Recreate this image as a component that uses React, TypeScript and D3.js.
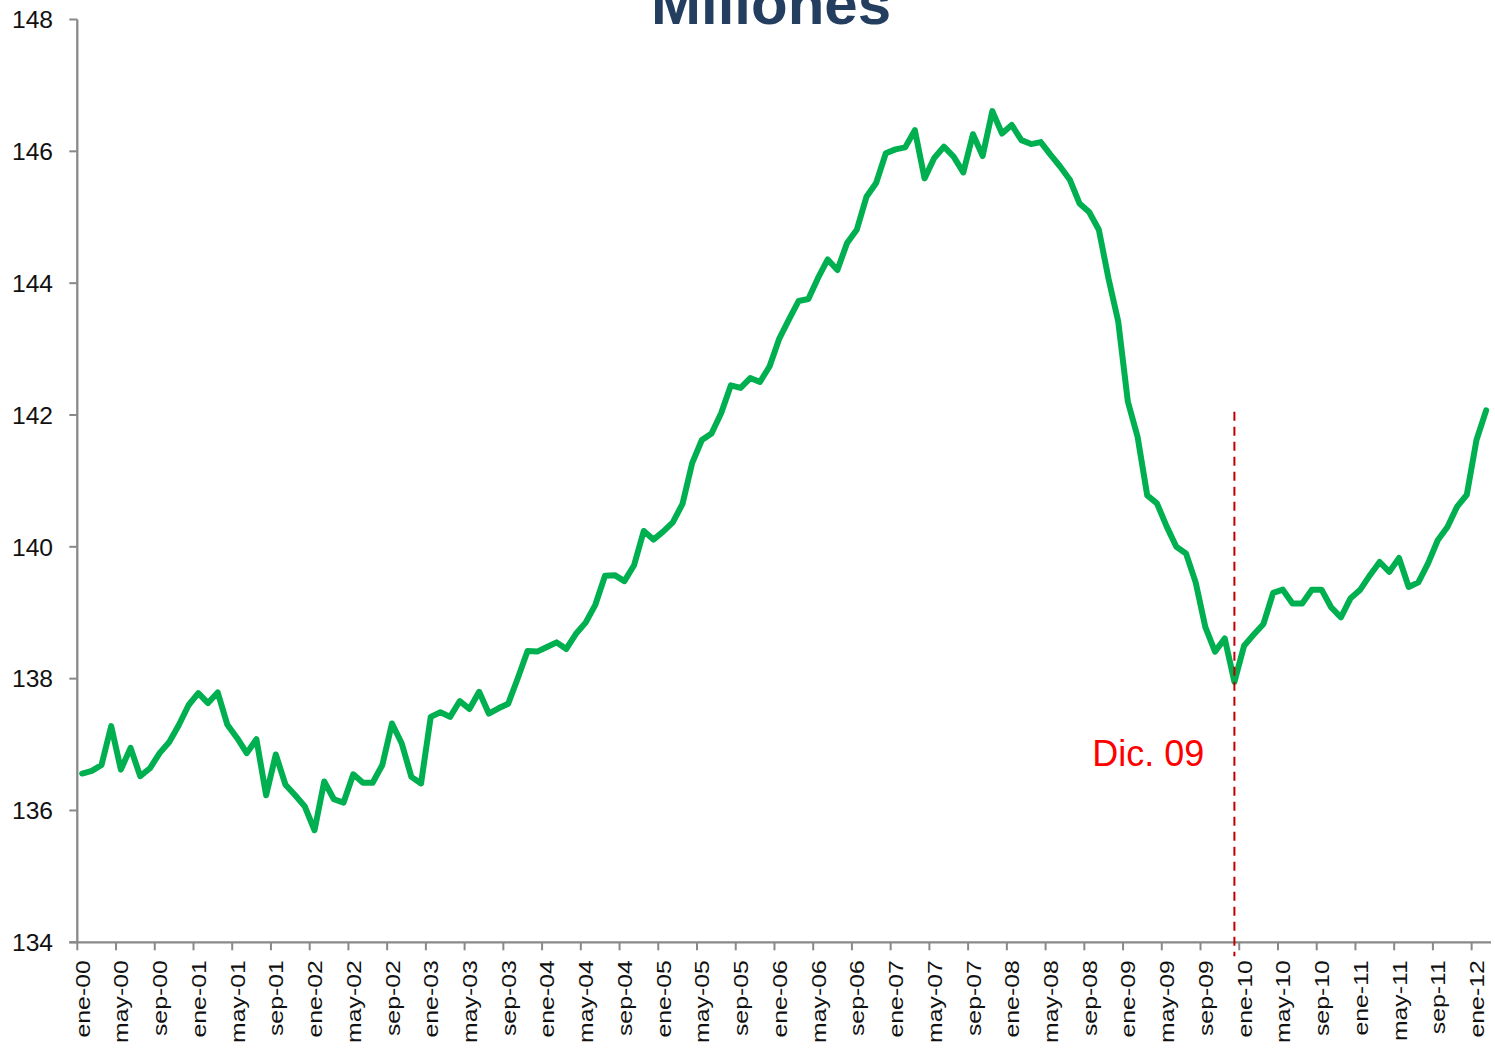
import React from 'react';
import * as d3 from 'd3';

// Ocupados (millones), enero 2000 - febrero 2012
const monthAbbr = ['ene', 'feb', 'mar', 'abr', 'may', 'jun', 'jul', 'ago', 'sep', 'oct', 'nov', 'dic'];
const years = ['00', '01', '02', '03', '04', '05', '06', '07', '08', '09', '10', '11', '12'];

const v2000 = [136.56, 136.60, 136.69, 137.28, 136.62, 136.95, 136.52, 136.64, 136.87, 137.04, 137.30, 137.60];
const v2001 = [137.78, 137.63, 137.79, 137.30, 137.10, 136.87, 137.08, 136.23, 136.85, 136.39, 136.23, 136.06];
const v2002 = [135.70, 136.44, 136.17, 136.12, 136.55, 136.42, 136.42, 136.69, 137.32, 137.02, 136.51, 136.41];
const v2003 = [137.42, 137.49, 137.42, 137.66, 137.54, 137.80, 137.47, 137.55, 137.62, 138.01, 138.42, 138.41];
const v2004 = [138.48, 138.55, 138.45, 138.68, 138.85, 139.12, 139.56, 139.57, 139.48, 139.72, 140.24, 140.11];
const v2005 = [140.23, 140.37, 140.65, 141.27, 141.62, 141.72, 142.03, 142.45, 142.41, 142.56, 142.50, 142.74];
const v2006 = [143.16, 143.45, 143.73, 143.76, 144.08, 144.36, 144.20, 144.61, 144.81, 145.31, 145.52, 145.97];
const v2007 = [146.03, 146.06, 146.32, 145.59, 145.90, 146.07, 145.92, 145.68, 146.26, 145.93, 146.61, 146.27];
const v2008 = [146.40, 146.17, 146.11, 146.14, 145.95, 145.77, 145.57, 145.21, 145.08, 144.81, 144.07, 143.42];
const v2009 = [142.20, 141.67, 140.78, 140.66, 140.31, 140.00, 139.90, 139.46, 138.78, 138.41, 138.61, 137.95];
const v2010 = [138.50, 138.67, 138.83, 139.30, 139.35, 139.14, 139.14, 139.35, 139.35, 139.08, 138.93, 139.22];
const v2011 = [139.35, 139.57, 139.77, 139.62, 139.83, 139.39, 139.46, 139.75, 140.10, 140.30, 140.61, 140.79];
const v2012 = [141.62, 142.07];

const values = [
  ...v2000, ...v2001, ...v2002, ...v2003, ...v2004, ...v2005, ...v2006,
  ...v2007, ...v2008, ...v2009, ...v2010, ...v2011, ...v2012,
];

// category labels like "ene-00"
const categories = values.map((_, i) => `${monthAbbr[i % 12]}-${years[Math.floor(i / 12)]}`);

const yTicks = [134, 136, 138, 140, 142, 144, 146, 148];
const markerCategory = 'dic-09';
const markerTop = 142.05;
const markerLabel = 'Dic. 09';
const markerLabelValue = 136.68;
const title = 'Millones';

const width = 1495;
const height = 1048;
const margin = { top: 19.5, right: 4, bottom: 105.7, left: 77.3 };

export default function App() {
  const x = d3
    .scaleBand<string>()
    .domain(categories)
    .range([margin.left, width - margin.right])
    .padding(0);

  const y = d3
    .scaleLinear()
    .domain([134, 148])
    .range([height - margin.bottom, margin.top]);

  const cx = (c: string) => (x(c) as number) + x.bandwidth() / 2;

  const line = d3
    .line<number>()
    .x((_, i) => cx(categories[i]))
    .y((d) => y(d));

  const axisY = y(134);
  const labelTop = axisY + 18;
  const tickCats = categories.filter((_, i) => i % 4 === 0);
  const markerX = cx(markerCategory);

  const axisColor = '#898989';
  const font = '"Liberation Sans", Arial, sans-serif';

  return (
    <svg
      width={width}
      height={height}
      style={{ position: 'absolute', left: 0, top: 0, background: '#fff' }}
    >
      {/* title, cut off by the top edge like the original */}
      <text
        x={771}
        y={24}
        textAnchor="middle"
        fontFamily={font}
        fontWeight="bold"
        fontSize={60}
        fill="#243E60"
      >
        {title}
      </text>

      {/* y axis */}
      <line x1={margin.left} x2={margin.left} y1={y(148)} y2={axisY} stroke={axisColor} strokeWidth={2.3} />
      {yTicks.map((t) => (
        <g key={t}>
          <line x1={margin.left - 8} x2={margin.left} y1={y(t)} y2={y(t)} stroke={axisColor} strokeWidth={2} />
          <text
            x={53}
            y={y(t)}
            dy="0.36em"
            textAnchor="end"
            fontFamily={font}
            fontSize={24.6}
            fill="#111"
          >
            {t}
          </text>
        </g>
      ))}

      {/* x axis */}
      <line x1={margin.left - 8} x2={width - margin.right} y1={axisY} y2={axisY} stroke={axisColor} strokeWidth={2.3} />
      {tickCats.map((c) => (
        <g key={c}>
          <line
            x1={x(c) as number}
            x2={x(c) as number}
            y1={axisY}
            y2={axisY + 8}
            stroke={axisColor}
            strokeWidth={2}
          />
          <text
            transform={`translate(${cx(c)},${labelTop}) rotate(-90) scale(1.18,1)`}
            dy="0.36em"
            textAnchor="end"
            fontFamily={font}
            fontSize={21}
            fill="#111"
          >
            {c}
          </text>
        </g>
      ))}

      {/* series */}
      <path
        d={line(values) ?? ''}
        fill="none"
        stroke="#00B050"
        strokeWidth={6}
        strokeLinejoin="round"
        strokeLinecap="round"
      />

      {/* Dic. 09 marker */}
      <line
        x1={markerX}
        x2={markerX}
        y1={y(markerTop)}
        y2={axisY + 14}
        stroke="#C00000"
        strokeWidth={2}
        strokeDasharray="9,6"
      />
      <text
        x={markerX - 30}
        y={y(markerLabelValue)}
        textAnchor="end"
        fontFamily={font}
        fontSize={36}
        fill="#FF0000"
      >
        {markerLabel}
      </text>
    </svg>
  );
}
